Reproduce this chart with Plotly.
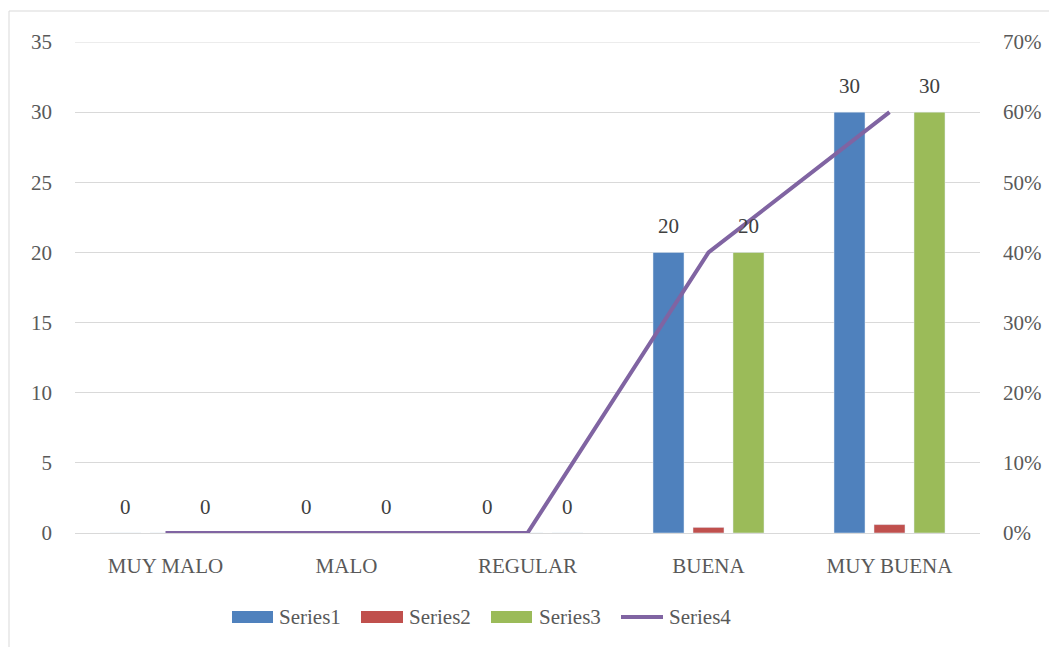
import plotly.graph_objects as go

categories = ["MUY MALO", "MALO", "REGULAR", "BUENA", "MUY BUENA"]
series1 = [0, 0, 0, 20, 30]
series2 = [0, 0, 0, 0.4, 0.6]
series3 = [0, 0, 0, 20, 30]
series4 = [0, 0, 0, 0.40, 0.60]
series_names = ["Series1", "Series2", "Series3", "Series4"]
y_ticks = [0, 5, 10, 15, 20, 25, 30, 35]
y2_ticks = [0, 0.1, 0.2, 0.3, 0.4, 0.5, 0.6, 0.7]
colors = ["#4F81BD", "#C0504D", "#9BBB59", "#8064A2"]

FONT = "Liberation Serif"
FS = 21
TXT = "#595959"
LBL = "#404040"

# figure geometry (page has an 8px body margin)
L, T, PW, PH = 67, 34, 905, 491
OFF = 8
def px(xs):
    return (xs - OFF - L) / PW
def py(ys):
    return (T + PH - (ys - OFF)) / PH

fig = go.Figure()
fig.add_trace(go.Bar(name=series_names[0], x=categories, y=series1, marker_color=colors[0], showlegend=False))
fig.add_trace(go.Bar(name=series_names[1], x=categories, y=series2, marker_color=colors[1], showlegend=False))
fig.add_trace(go.Bar(name=series_names[2], x=categories, y=series3, marker_color=colors[2], showlegend=False))
fig.add_trace(go.Scatter(name=series_names[3], x=categories, y=series4, yaxis="y2", mode="lines",
                         line=dict(color=colors[3], width=4), cliponaxis=False, showlegend=False))

annotations = []
for vals, shift in ((series1, -40), (series3, 40)):
    for c, v in zip(categories, vals):
        annotations.append(dict(x=c, y=v, xref="x", yref="y", text=str(v), showarrow=False,
                                xshift=shift, yshift=26, yanchor="middle",
                                font=dict(family=FONT, size=FS, color=LBL)))

shapes = [dict(type="rect", xref="paper", yref="paper", x0=px(9), x1=px(1075), y0=py(665), y1=py(11),
               line=dict(color="#D9D9D9", width=1), fillcolor="rgba(0,0,0,0)", layer="below"),
          dict(type="line", xref="paper", yref="y", x0=0, x1=1, y0=y_ticks[-1], y1=y_ticks[-1],
               line=dict(color="#D9D9D9", width=1), layer="below")]

# custom legend
leg_y0, leg_y1, leg_yc = 611, 623, 617
swatches = [(232, 273, 277), (361, 403, 407), (491, 532, 537)]
for i, (a, b, t) in enumerate(swatches):
    shapes.append(dict(type="rect", xref="paper", yref="paper", x0=px(a), x1=px(b), y0=py(leg_y1), y1=py(leg_y0),
                       line=dict(width=0), fillcolor=colors[i]))
    annotations.append(dict(x=px(t), y=py(leg_yc), xref="paper", yref="paper", text=series_names[i],
                            showarrow=False, xanchor="left", yanchor="middle",
                            font=dict(family=FONT, size=FS, color=TXT)))
shapes.append(dict(type="line", xref="paper", yref="paper", x0=px(621), x1=px(663), y0=py(leg_yc), y1=py(leg_yc),
                   line=dict(color=colors[3], width=4)))
annotations.append(dict(x=px(667), y=py(leg_yc), xref="paper", yref="paper", text=series_names[3],
                        showarrow=False, xanchor="left", yanchor="middle",
                        font=dict(family=FONT, size=FS, color=TXT)))

fig.update_layout(
    width=1057, height=647,
    margin=dict(l=L, r=1057 - L - PW, t=T, b=647 - T - PH),
    paper_bgcolor="white", plot_bgcolor="white",
    font=dict(family=FONT, size=FS, color=TXT),
    barmode="group", bargap=0.337, bargroupgap=0.225,
    showlegend=False,
    xaxis=dict(showgrid=False, showline=True, linecolor="#D9D9D9", linewidth=1,
               ticks="", ticklabelstandoff=14, tickfont=dict(family=FONT, size=FS, color=TXT)),
    yaxis=dict(range=[0, 35], tickvals=y_ticks, showgrid=True,
               gridcolor="#D9D9D9", gridwidth=1,
               zeroline=False, showline=False, ticks="", ticklabelstandoff=22,
               tickfont=dict(family=FONT, size=FS, color=TXT)),
    yaxis2=dict(range=[0, 0.7], tickvals=y2_ticks, tickformat=".0%",
                overlaying="y", side="right",
                showgrid=False, zeroline=False, showline=False, ticks="", ticklabelstandoff=22,
                tickfont=dict(family=FONT, size=FS, color=TXT)),
    shapes=shapes,
    annotations=annotations,
)

fig.write_html("out.html")
